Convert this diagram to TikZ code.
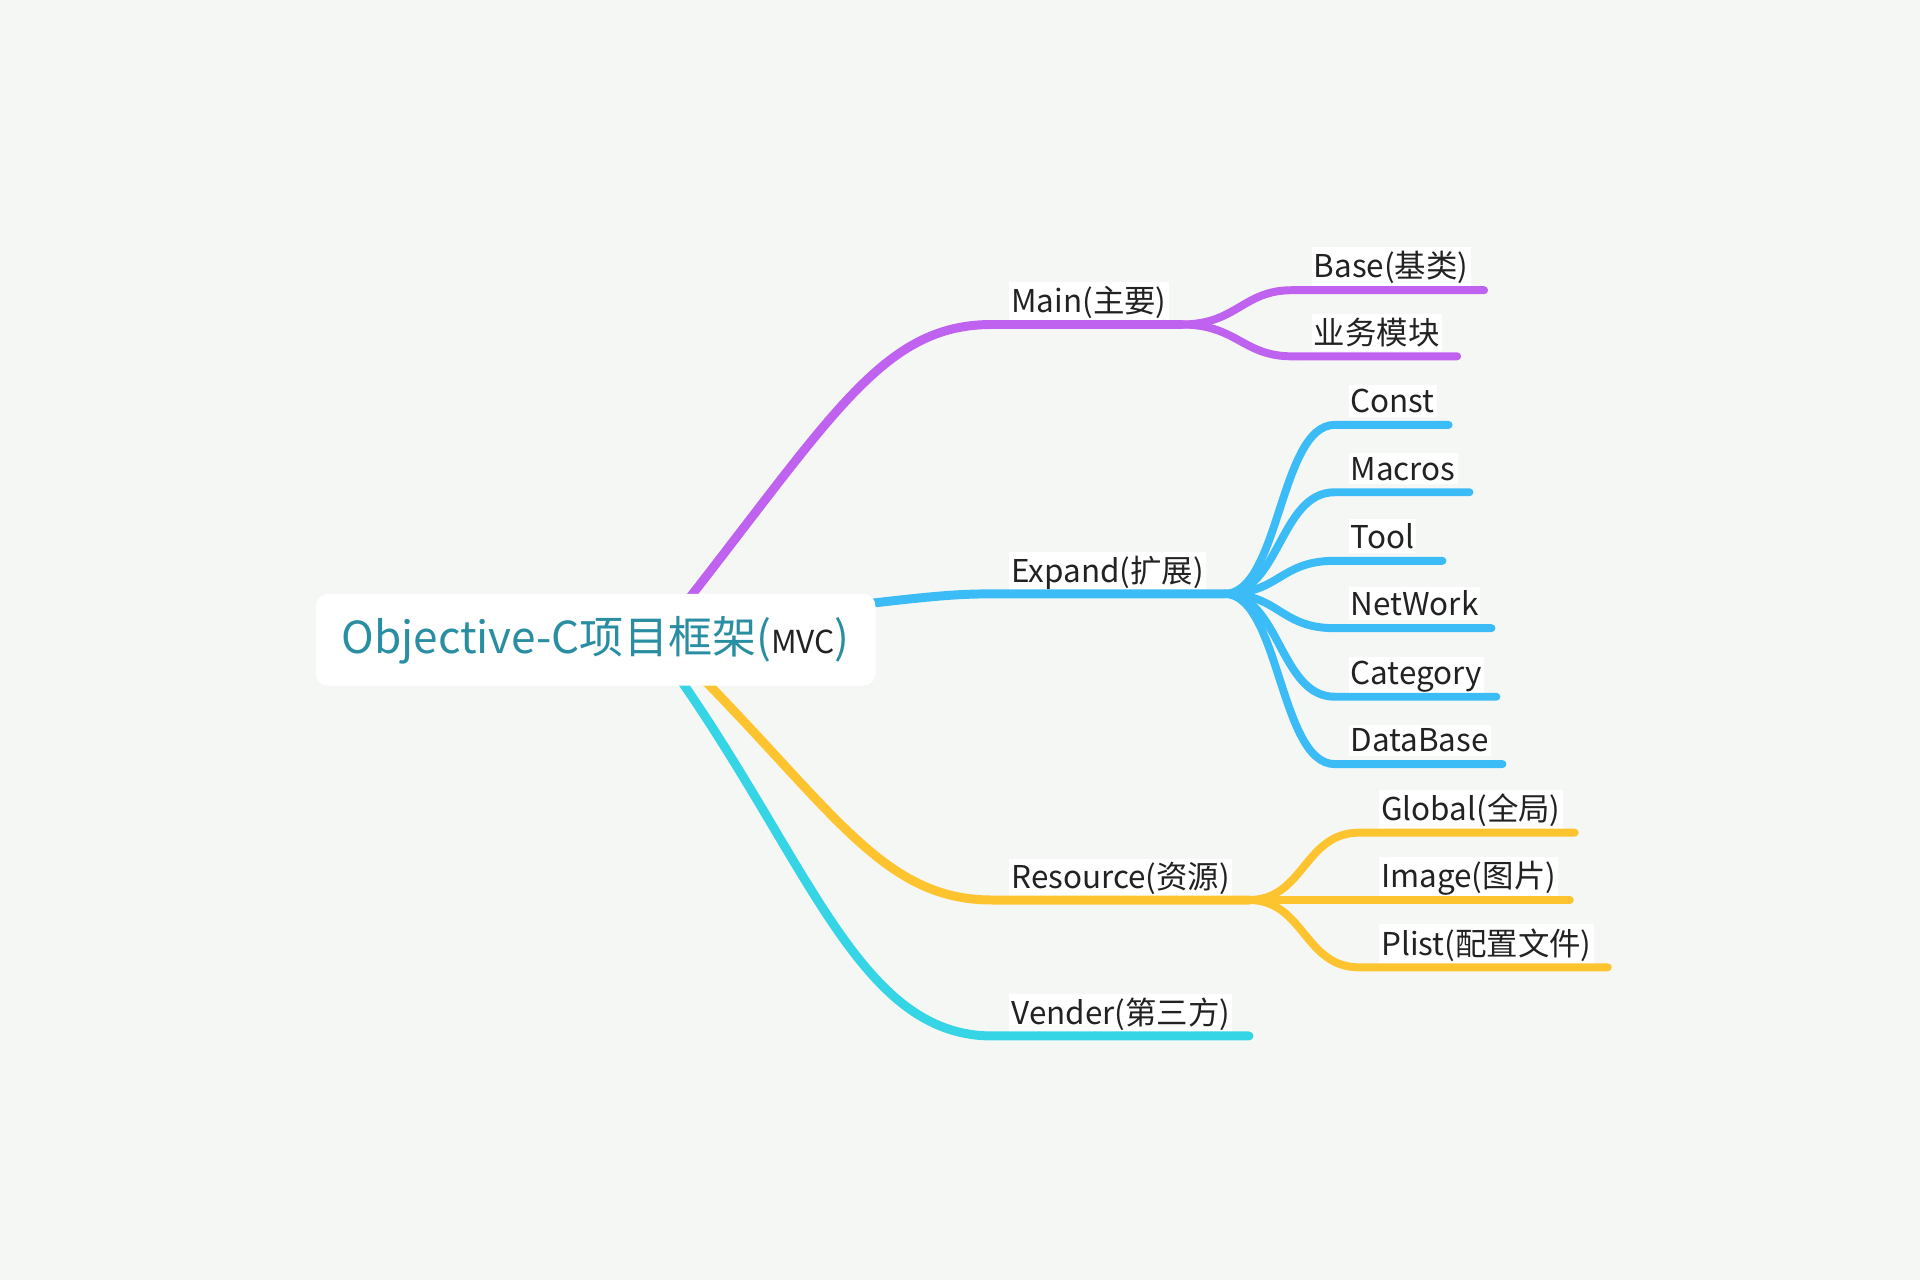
\documentclass[tikz,border=0pt]{standalone}
\usepackage{fontspec}
\setmainfont{Noto Sans CJK SC}
\usetikzlibrary{backgrounds}
\pgfdeclarelayer{front}
\pgfsetlayers{background,main,front}
\definecolor{bgc}{HTML}{F5F7F4}
\definecolor{cpurple}{HTML}{C062F0}
\definecolor{cblue}{HTML}{3BBCF7}
\definecolor{cyellow}{HTML}{FEC430}
\definecolor{ccyan}{HTML}{36D5E6}
\definecolor{cteal}{HTML}{2A8EA3}
\definecolor{ctext}{HTML}{222222}
\tikzset{
  br/.style={line width=4.4pt, line cap=round},
  sub/.style={line width=3.9pt, line cap=round},
  lbl/.style={anchor=base west, fill=white, inner xsep=1pt, inner ysep=2pt, text=ctext, font=\fontsize{15.4}{18}\selectfont},
}
\begin{document}
\begin{tikzpicture}[x=0.6pt,y=-0.6pt]
\useasboundingbox (0,0) rectangle (1568,1045.33);
% root
\begin{pgfonlayer}{front}
\node[fill=white, rounded corners=6pt, minimum width=457*0.6pt, minimum height=75*0.6pt, inner sep=0pt,
      text=cteal, font=\fontsize{21.6}{26}\selectfont] (root) at (486.5,522.5)
      {Objective-C项目框架(\textcolor{ctext}{\fontsize{15.5}{18}\selectfont MVC})};
\end{pgfonlayer}
% coordinates
\coordinate (mainS) at (550,505);
\coordinate (mainA) at (810,265);
\coordinate (mainB) at (965,265);
\coordinate (expS) at (700,494);
\coordinate (expA) at (810,485);
\coordinate (expB) at (1000,485);
\coordinate (resS) at (560,540);
\coordinate (resA) at (810,735);
\coordinate (resB) at (1020,735);
\coordinate (venS) at (545,540);
\coordinate (venA) at (810,846);
\coordinate (venB) at (1020,846);
% Main children
\coordinate (baseA) at (1055,237);   \coordinate (baseB) at (1212,237);
\coordinate (bizA) at (1055,291);    \coordinate (bizB) at (1190,291);
% Expand children
\coordinate (constA) at (1090,347);  \coordinate (constB) at (1183,347);
\coordinate (macA) at (1090,402);    \coordinate (macB) at (1200,402);
\coordinate (toolA) at (1090,458);   \coordinate (toolB) at (1178,458);
\coordinate (netA) at (1090,513);    \coordinate (netB) at (1218,513);
\coordinate (catA) at (1090,569);    \coordinate (catB) at (1222,569);
\coordinate (dbA) at (1090,624);     \coordinate (dbB) at (1227,624);
% Resource children
\coordinate (globA) at (1110,680);   \coordinate (globB) at (1286,680);
\coordinate (imgA) at (1110,735);    \coordinate (imgB) at (1282,735);
\coordinate (plA) at (1110,790);     \coordinate (plB) at (1313,790);

\begin{scope}[on background layer]
\fill[bgc] (0,0) rectangle (1568,1045.33);
% labels
\node[lbl] (lmain) at (824,255) {Main(主要)};
\node[lbl] (lexp) at (824,476) {Expand(扩展)};
\node[lbl] (lres) at (824,726) {Resource(资源)};
\node[lbl] (lven) at (824,837) {Vender(第三方)};
\node[lbl] (lbase) at (1071,227) {Base(基类)};
\node[lbl] (lbiz) at (1071,281) {业务模块};
\node[lbl] (lconst) at (1101,337) {Const};
\node[lbl] (lmac) at (1101,392) {Macros};
\node[lbl] (ltool) at (1101,448) {Tool};
\node[lbl] (lnet) at (1101,503) {NetWork};
\node[lbl] (lcat) at (1101,559) {Category};
\node[lbl] (ldb) at (1101,614) {DataBase};
\node[lbl] (lglob) at (1126,670) {Global(全局)};
\node[lbl] (limg) at (1126,725) {Image(图片)};
\node[lbl] (lpl) at (1126,780) {Plist(配置文件)};
\end{scope}

\draw[br, cpurple] (mainS) .. controls (680,340) and (720,265) .. (mainA) -- (mainB);
\draw[br, cblue] (expS) .. controls (760,487) and (780,485) .. (expA) -- (expB);
\draw[br, cyellow] (resS) .. controls (680,660) and (720,735) .. (resA) -- (resB);
\draw[br, ccyan] (venS) .. controls (660,700) and (700,846) .. (venA) -- (venB);

% Main sub-branches
\draw[sub, cpurple] (mainB) .. controls (1010,265) and (1015,237) .. (baseA) -- (baseB);
\draw[sub, cpurple] (mainB) .. controls (1010,265) and (1015,291) .. (bizA) -- (bizB);
% Expand sub-branches
\foreach \a/\b/\y in {constA/constB/347, macA/macB/402, toolA/toolB/458, netA/netB/513, catA/catB/569, dbA/dbB/624}{
  \draw[sub, cblue] (expB) .. controls (1045,485) and (1045,\y) .. (\a) -- (\b);
}
% Resource sub-branches
\foreach \a/\b/\y in {globA/globB/680, imgA/imgB/735, plA/plB/790}{
  \draw[sub, cyellow] (resB) .. controls (1065,735) and (1065,\y) .. (\a) -- (\b);
}
\end{tikzpicture}
\end{document}
